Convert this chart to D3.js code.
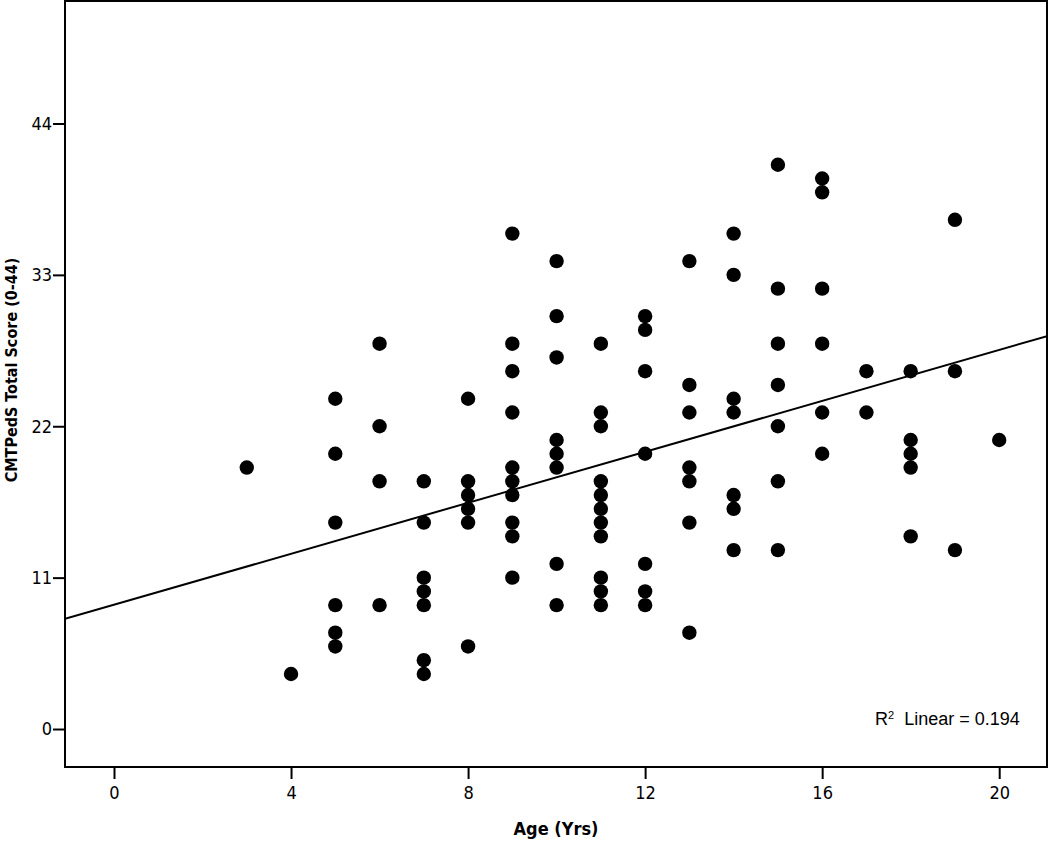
<!DOCTYPE html>
<html>
<head>
<meta charset="utf-8">
<script src="https://cdn.jsdelivr.net/npm/d3@7"></script>
<style>
  html, body { margin: 0; padding: 0; background: #fff; }
  svg { display: block; }
</style>
</head>
<body>
<svg id="chart" width="1050" height="842"></svg>
<script>
// ---- data ----
const ages = [
  3,
  4,
  5,5,5,5,5,5,
  6,6,6,6,
  7,7,7,7,7,7,7,
  8,8,8,8,8,8,
  9,9,9,9,9,9,9,9,9,9,
  10,10,10,10,10,10,10,10,
  11,11,11,11,11,11,11,11,11,11,11,
  12,12,12,12,12,12,12,
  13,13,13,13,13,13,13,
  14,14,14,14,14,14,14,
  15,15,15,15,15,15,15,
  16,16,16,16,16,16,
  17,17,
  18,18,18,18,18,
  19,19,19,
  20
];
const scores = [
  19,
  4,
  24,20,15,9,7,6,
  28,22,18,9,
  18,15,11,10,9,5,4,
  24,18,17,16,15,6,
  36,28,26,23,19,18,17,15,14,11,
  34,30,27,21,20,19,12,9,
  28,23,22,18,17,16,15,14,11,10,9,
  30,29,26,20,12,10,9,
  34,25,23,19,18,15,7,
  36,33,24,23,17,16,13,
  41,32,28,25,22,18,13,
  40,39,32,28,23,20,
  26,23,
  26,21,20,19,14,
  37,26,13,
  21
];
const xTicks = [0, 4, 8, 12, 16, 20];
const yTicks = [0, 11, 22, 33, 44];
const fitIntercept = 9.03;   // fit line as drawn in the reference
const fitSlope = 0.926;
const r2Label = "0.194";
const xTitle = "Age (Yrs)";
const yTitle = "CMTPedS Total Score (0-44)";

// ---- layout ----
const svg = d3.select("#chart");
const L = 65, R = 1047, T = 1, B = 767;
const x = d3.scaleLinear().domain([-1.107, 21.08]).range([L, R]);
const y = d3.scaleLinear().domain([-2.76, 52.9]).range([B, T]);

const tickFont = "'DejaVu Sans Condensed', 'DejaVu Sans', sans-serif";

// frame
svg.append("rect")
  .attr("x", L).attr("y", T)
  .attr("width", R - L).attr("height", B - T)
  .attr("fill", "none").attr("stroke", "#000").attr("stroke-width", 2);

// x axis
const xAxis = d3.axisBottom(x).tickValues(xTicks).tickSize(12).tickPadding(7).tickSizeOuter(0);
const gx = svg.append("g").attr("transform", `translate(0,${B})`).call(xAxis);
gx.select(".domain").remove();
gx.selectAll(".tick line").attr("stroke", "#000").attr("stroke-width", 2);
gx.selectAll(".tick text")
  .attr("fill", "#000")
  .style("font-family", tickFont)
  .style("font-size", "18px");

// y axis
const yAxis = d3.axisLeft(y).tickValues(yTicks).tickSize(12).tickPadding(1).tickSizeOuter(0);
const gy = svg.append("g").attr("transform", `translate(${L},0)`).call(yAxis);
gy.select(".domain").remove();
gy.selectAll(".tick line").attr("stroke", "#000").attr("stroke-width", 2);
gy.selectAll(".tick text")
  .attr("fill", "#000")
  .style("font-family", tickFont)
  .style("font-size", "18px");

// axis titles
svg.append("text")
  .attr("x", (L + R) / 2).attr("y", 835)
  .attr("text-anchor", "middle")
  .style("font-family", tickFont)
  .style("font-size", "18px")
  .style("font-weight", "bold")
  .text(xTitle);

svg.append("text")
  .attr("transform", `translate(17,370) rotate(-90)`)
  .attr("text-anchor", "middle")
  .style("font-family", tickFont)
  .style("font-size", "16px")
  .style("font-weight", "bold")
  .text(yTitle);

// clip for plot area
svg.append("clipPath").attr("id", "plotclip")
  .append("rect").attr("x", L).attr("y", T).attr("width", R - L).attr("height", B - T);

const plot = svg.append("g").attr("clip-path", "url(#plotclip)");

// points
const pts = ages.map((a, i) => ({ age: a, score: scores[i] }));
plot.selectAll("circle")
  .data(pts)
  .enter().append("circle")
  .attr("cx", d => x(d.age))
  .attr("cy", d => y(d.score))
  .attr("r", 7.2)
  .attr("fill", "#000");

// fit line
const [x0, x1] = x.domain();
const line = d3.line().x(d => x(d[0])).y(d => y(d[1]));
plot.append("path")
  .datum([[x0, fitIntercept + fitSlope * x0], [x1, fitIntercept + fitSlope * x1]])
  .attr("d", line)
  .attr("fill", "none")
  .attr("stroke", "#000")
  .attr("stroke-width", 2);

// R² label
const r2 = svg.append("text")
  .attr("x", 875).attr("y", 725)
  .style("font-family", "'Liberation Sans', Arial, sans-serif")
  .style("font-size", "18px")
  .attr("fill", "#000");
r2.append("tspan").text("R");
r2.append("tspan").attr("dy", -6).style("font-size", "11px").text("2");
r2.append("tspan").attr("dy", 6).text("\u00a0 Linear = " + r2Label);
</script>
</body>
</html>
